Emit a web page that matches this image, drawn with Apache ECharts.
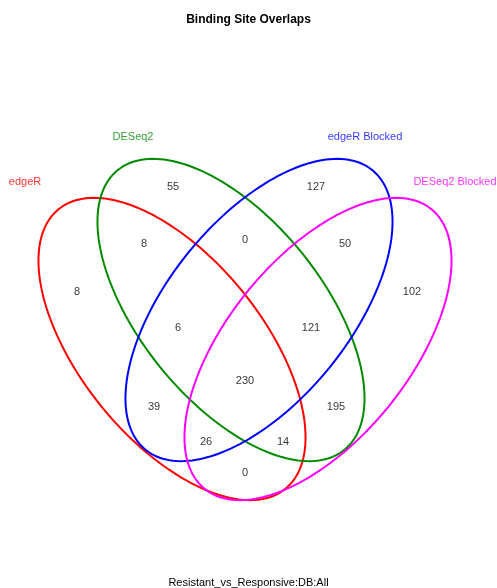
<!DOCTYPE html>
<html>
<head>
<meta charset="utf-8">
<script src="https://cdn.jsdelivr.net/npm/echarts@6/dist/echarts.min.js"></script>
<style>
  html, body { margin: 0; padding: 0; background: #fff; }
  #main { width: 497px; height: 588px; }
</style>
</head>
<body>
<div id="main"></div>
<script>
// set names and colours
const setNames = ["edgeR", "DESeq2", "edgeR Blocked", "DESeq2 Blocked"];
const setColors = ["#FF0000", "#008B00", "#0000FF", "#FF00FF"];

// ellipses in plot units: centre x, centre y, semi-major, semi-minor, tilt (deg)
const ellipseCx = [172, 231, 259, 318];
const ellipseCy = [349, 310, 310, 349];
const ellipseA = [180, 180, 180, 180];
const ellipseB = [91, 91, 91, 91];
const ellipseTilt = [51, 51, -51, -51];

// where each set name sits
const setLabelX = [25, 133, 365, 455];
const setLabelY = [182, 137, 137, 182];

// region counts and their spots
const counts = [55, 127, 8, 0, 50, 8, 102, 6, 121, 230, 39, 195, 26, 14, 0];
const countX = [173, 316, 144, 245, 345, 77, 412, 178, 311, 245, 154, 336, 206, 283, 245];
const countY = [187, 187, 244, 240, 244, 292, 292, 328, 328, 381, 407, 407, 442, 442, 473];

const chart = echarts.init(document.getElementById("main"));

const ellipseData = ellipseCx.map((cx, i) => [cx, ellipseCy[i], ellipseA[i], ellipseB[i], ellipseTilt[i], i]);

const option = {
  backgroundColor: "#fff",
  animation: false,
  title: [
    {
      text: "Binding Site Overlaps",
      left: "center",
      top: 9,
      textStyle: { fontFamily: "Liberation Sans", fontSize: 12, fontWeight: "bold", color: "#000" },
    },
    {
      text: "Resistant_vs_Responsive:DB:All",
      left: "center",
      top: 572,
      textStyle: { fontFamily: "Liberation Sans", fontSize: 11, fontWeight: "normal", color: "#000" },
    },
  ],
  grid: { left: 0, right: 0, top: 0, bottom: 0 },
  xAxis: { type: "value", min: 0, max: 497, show: false },
  yAxis: { type: "value", min: 0, max: 588, inverse: true, show: false },
  series: [
    {
      type: "custom",
      clip: false,
      data: ellipseData,
      encode: { x: 0, y: 1 },
      renderItem: function (params, api) {
        const cx = api.value(0);
        const cy = api.value(1);
        const a = api.value(2);
        const b = api.value(3);
        const t = (api.value(4) * Math.PI) / 180;
        const idx = api.value(5);
        const pts = [];
        for (let k = 0; k < 180; k++) {
          const u = (k / 180) * Math.PI * 2;
          const x = cx + a * Math.cos(u) * Math.cos(t) - b * Math.sin(u) * Math.sin(t);
          const y = cy + a * Math.cos(u) * Math.sin(t) + b * Math.sin(u) * Math.cos(t);
          pts.push(api.coord([x, y]));
        }
        return {
          type: "polygon",
          shape: { points: pts },
          style: { fill: "none", stroke: setColors[idx], lineWidth: 2 },
        };
      },
    },
    {
      type: "scatter",
      symbolSize: 0,
      data: setLabelX.map((x, i) => ({
        value: [x, setLabelY[i]],
        label: { color: setColors[i] },
        name: setNames[i],
      })),
      label: {
        show: true,
        position: "inside",
        formatter: (p) => p.name,
        fontFamily: "Liberation Sans",
        fontSize: 11,
      },
    },
    {
      type: "scatter",
      symbolSize: 0,
      data: counts.map((c, i) => ({ value: [countX[i], countY[i]], name: String(c) })),
      label: {
        show: true,
        position: "inside",
        formatter: (p) => p.name,
        fontFamily: "Liberation Sans",
        fontSize: 11,
        color: "#000",
      },
    },
  ],
};

chart.setOption(option);
</script>
</body>
</html>
